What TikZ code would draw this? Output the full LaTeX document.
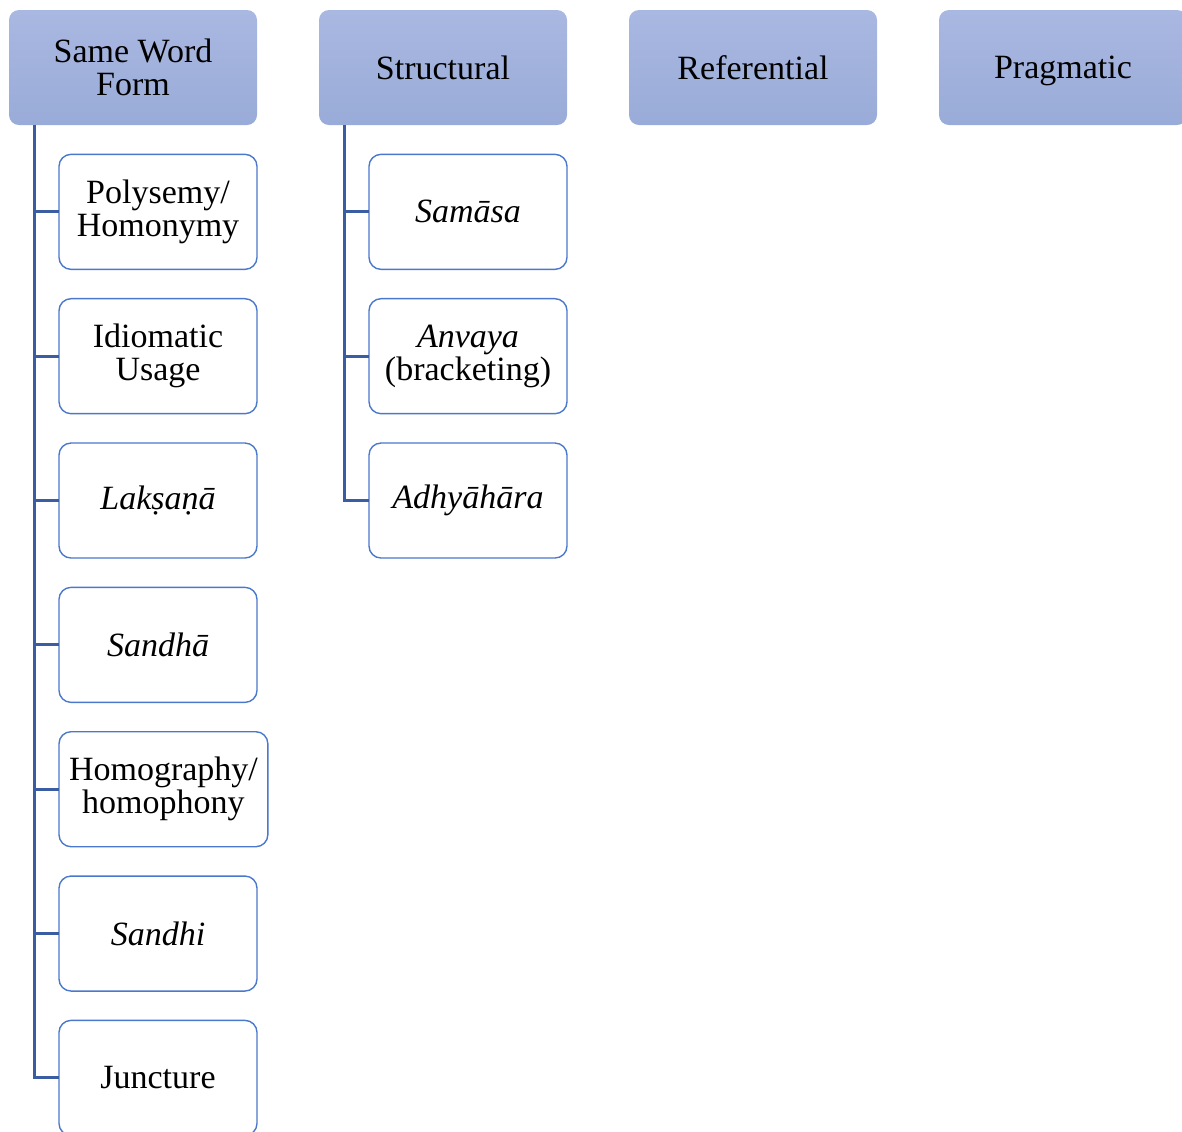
\documentclass[tikz,border=0pt]{standalone}
\usepackage{fontspec}
\setmainfont{Liberation Serif}
\usetikzlibrary{positioning}
\definecolor{headtop}{HTML}{A9B8E1}
\definecolor{headbot}{HTML}{99ABD8}
\definecolor{leafline}{HTML}{4A78CC}
\definecolor{branchline}{HTML}{3A5CA3}
\tikzset{
  head/.style={rectangle, rounded corners=5pt, top color=headtop, bottom color=headbot,
    draw=none, minimum width=124pt, minimum height=57.5pt, align=center, outer sep=0pt,
    inner sep=4pt, font=\fontsize{17}{16.5}\selectfont, anchor=north west},
  leaf/.style={rectangle, rounded corners=6pt, draw=leafline, line width=0.7pt, fill=white,
    minimum width=99pt, minimum height=57.5pt, align=center, inner xsep=5pt, outer sep=0pt,
    font=\fontsize{17}{16.5}\selectfont},
  branch/.style={draw=branchline, line width=1.5pt}
}

\begin{document}
\begin{tikzpicture}[x=0.5pt,y=-0.5pt,node distance=14.67pt]
      \path[use as bounding box, clip] (0,0) rectangle (1182,1131);
      \node[head] (swf) at (9,10) {Same Word\\Form};
      \node[head] (str) at (319,10) {Structural};
      \node[head] (ref) at (629,10) {Referential};
      \node[head, text depth=0pt] (prg) at (939,10) {Pragmatic};
      \node[leaf, below=of swf.south west, anchor=north west, xshift=25pt] (poly) {Polysemy/\\Homonymy};
      \node[leaf, below=of poly.south west, anchor=north west] (idio) {Idiomatic\\Usage};
      \node[leaf, below=of idio.south west, anchor=north west] (laks) {\itshape Lakṣaṇā};
      \node[leaf, below=of laks.south west, anchor=north west] (sndha) {\itshape Sandhā};
      \node[leaf, below=of sndha.south west, anchor=north west] (homo) {Homography/\\homophony};
      \node[leaf, below=of homo.south west, anchor=north west] (sndhi) {\itshape Sandhi};
      \node[leaf, below=of sndhi.south west, anchor=north west] (junc) {Juncture};
      \node[leaf, below=of str.south west, anchor=north west, xshift=25pt] (sama) {\itshape Samāsa};
      \node[leaf, below=of sama.south west, anchor=north west] (anva) {\textit{Anvaya}\\(bracketing)};
      \node[leaf, below=of anva.south west, anchor=north west] (adhy) {\itshape Adhyāhāra};
      \foreach \c in {poly,idio,laks,sndha,homo,sndhi,junc}
        \draw[branch] ([xshift=12.5pt]swf.south west) |- (\c.west);
      \foreach \c in {sama,anva,adhy}
        \draw[branch] ([xshift=12.5pt]str.south west) |- (\c.west);
\end{tikzpicture}
\end{document}
